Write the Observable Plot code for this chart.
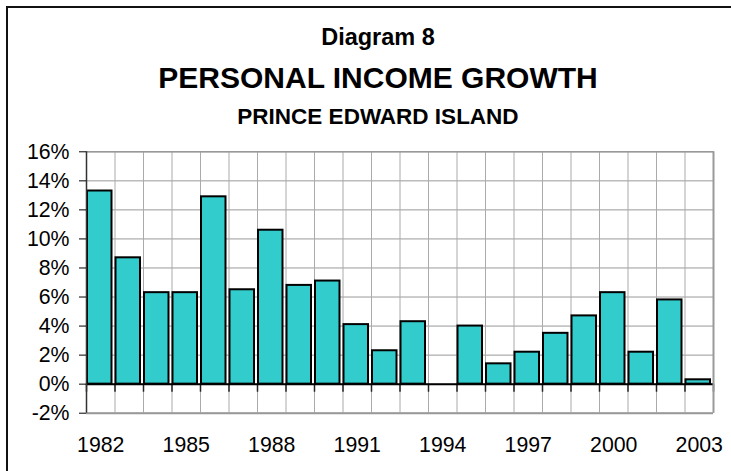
<!DOCTYPE html>
<html><head><meta charset="utf-8">
<script src="https://cdn.jsdelivr.net/npm/d3@7"></script>
<script src="https://cdn.jsdelivr.net/npm/@observablehq/plot@0.6"></script>
<style>
body{margin:0;background:#fff;}
#wrap{position:relative;width:731px;height:471px;overflow:hidden;background:#fff;font-family:"Liberation Sans",Arial,sans-serif;}
#border{position:absolute;left:6px;top:6px;width:760px;height:520px;border:2px solid #111;box-sizing:border-box;}
.t{position:absolute;left:0;width:756px;text-align:center;font-weight:bold;color:#000;white-space:nowrap;line-height:1;}
#chart{position:absolute;left:0;top:130px;}
</style></head><body>
<div id="wrap">
<div id="border"></div>
<div class="t" style="top:26px;font-size:23.5px">Diagram 8</div>
<div class="t" style="top:63px;font-size:30px">PERSONAL INCOME GROWTH</div>
<div class="t" style="top:106px;font-size:22.5px">PRINCE EDWARD ISLAND</div>
<div id="chart"></div>
</div>
<script>
const years = [1982,1983,1984,1985,1986,1987,1988,1989,1990,1991,1992,1993,1994,1995,1996,1997,1998,1999,2000,2001,2002,2003];
const growth = [13.3,8.7,6.3,6.3,12.9,6.5,10.6,6.8,7.1,4.1,2.3,4.3,null,4.0,1.4,2.2,3.5,4.7,6.3,2.2,5.8,0.3];
const xTickLabels = [1982,1985,1988,1991,1994,1997,2000,2003];
const yTicks = [-2,0,2,4,6,8,10,12,14,16];

const data = years.map((y,i)=>({year:y, value:growth[i]})).filter(d=>d.value!=null);
const bounds = years.map(y=>y-0.5).concat([years[years.length-1]+0.5]);
const xDomain = [bounds[0], bounds[bounds.length-1]];

const chart = Plot.plot({
  width: 731,
  height: 341,
  marginLeft: 86,
  marginRight: 18,
  marginTop: 21.3,
  marginBottom: 58.3,
  style: {fontFamily: '"Liberation Sans", Arial, sans-serif', fontSize: "21.3px", color: "#000", background: "transparent"},
  x: {type: "linear", domain: xDomain},
  y: {domain: [yTicks[0], yTicks[yTicks.length-1]]},
  marks: [
    Plot.ruleY(yTicks, {stroke: "#999", strokeWidth: 1}),
    Plot.ruleX(bounds, {stroke: "#aaa", strokeWidth: 1}),
    Plot.rectY(data, {x1: d=>d.year-0.5, x2: d=>d.year+0.5, y1: 0, y2: "value", fill: "#33CCCC", stroke: "#000", strokeWidth: 2, insetLeft: 1, insetRight: 3}),
    Plot.ruleX(bounds, {y1: 0, y2: yTicks[0], insetBottom: 21, stroke: "#222", strokeWidth: 1.5}),
    Plot.ruleY([0], {stroke: "#000", strokeWidth: 2}),
    Plot.ruleY([yTicks[0]], {stroke: "#999", strokeWidth: 2}),
    Plot.ruleY([yTicks[yTicks.length-1]], {stroke: "#999", strokeWidth: 1.5}),
    Plot.ruleX([xDomain[1]], {stroke: "#999", strokeWidth: 2}),
    Plot.ruleX([xDomain[0]], {stroke: "#333", strokeWidth: 1.5}),
    Plot.axisY({ticks: yTicks, tickFormat: d=>d+"%", tickSize: 7, tickPadding: 10, label: null, fontSize: "21.3px"}),
    Plot.axisX({ticks: xTickLabels, tickFormat: d=>String(d), tickSize: 0, tickPadding: 24, label: null, fontSize: "21.3px"})
  ]
});
document.getElementById("chart").appendChild(chart);
</script>
</body></html>
